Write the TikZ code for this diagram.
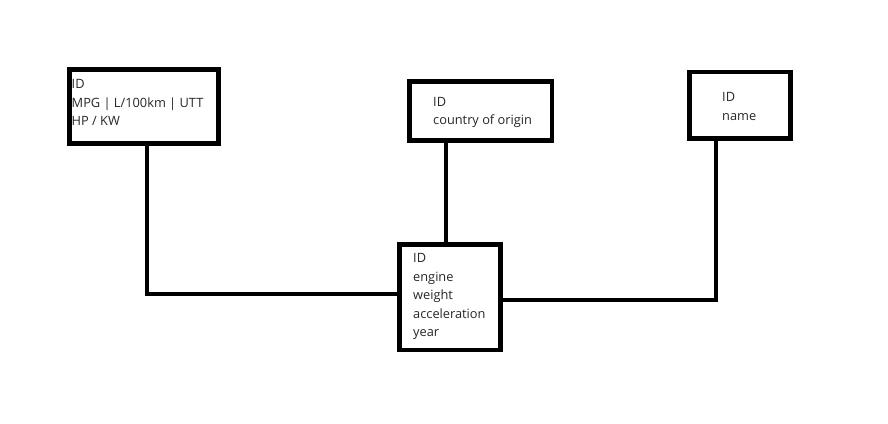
\documentclass[tikz,border=0pt]{standalone}
\usepackage{fontspec}
\setmainfont{Open Sans}
\usetikzlibrary{positioning}

\begin{document}
\begin{tikzpicture}[x=1pt, y=-1pt,
  entity/.style={rectangle, draw=black, line width=4.5pt, inner sep=0pt, outer sep=0pt},
  attrs/.style={inner sep=0pt, anchor=north west, align=left, font=\fontsize{12.8}{18.5}\selectfont, text=black!85},
  link/.style={line width=4pt}
]
\useasboundingbox (0,0) rectangle (888,423);

% tables
\node[entity, minimum width=149pt, minimum height=74pt] (fuel) at (144,106.5) {};
\node[entity, minimum width=142.5pt, minimum height=59pt] (origin) at (480.75,111) {};
\node[entity, minimum width=101pt, minimum height=66.5pt] (carname) at (740,105.25) {};
\node[entity, minimum width=101pt, minimum height=105.5pt] (car) at (450,297.25) {};

% columns
\node[attrs, below right=10pt and 2pt of fuel.north west] (fueltxt) {ID\\MPG | L/100km | UTT\\HP / KW};
\node[attrs, below right=15.5pt and 23.5pt of origin.north west] (origintxt) {ID\\country of origin};
\node[attrs, below right=20.5pt and 32.5pt of carname.north west] (carnametxt) {ID\\name};
\node[attrs, below right=9pt and 13.5pt of car.north west] (cartxt) {ID\\engine\\weight\\acceleration\\year};

% links
\coordinate (fueljoin) at (147,294);
\coordinate (namejoin) at (716,299.5);
\draw[link] (fueljoin |- fuel.south) -- (fueljoin) -- (fueljoin -| car.west);
\draw[link] ([xshift=-4pt]car.north) -- ([xshift=-4pt]car.north |- origin.south);
\draw[link] (namejoin |- carname.south) -- (namejoin) -- (namejoin -| car.east);
\end{tikzpicture}
\end{document}
